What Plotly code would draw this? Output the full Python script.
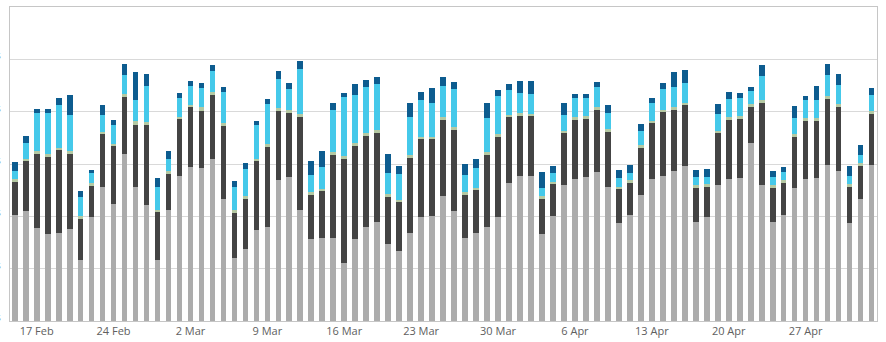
import pandas as pd
import plotly.graph_objects as go

# One bar per night, 15 Feb - 3 May 2020
days = pd.date_range("2020-02-15", periods=79, freq="D")

light = [4.07, 4.20, 3.55, 3.31, 3.38, 3.50, 2.35, 3.96, 5.14, 4.46,
         6.37, 5.14, 4.42, 2.35, 4.23, 5.53, 5.87, 5.83, 6.18, 4.65,
         2.39, 2.77, 3.47, 3.59, 5.39, 5.49, 4.26, 3.12, 3.17, 3.19,
         2.20, 3.12, 3.58, 3.78, 2.93, 2.66, 3.35, 3.96, 4.03, 4.76,
         4.19, 3.19, 3.38, 3.58, 3.96, 5.26, 5.56, 5.53, 3.31, 4.00,
         5.18, 5.41, 5.49, 5.68, 5.14, 3.73, 4.07, 4.80, 5.41, 5.56,
         5.72, 5.91, 3.80, 3.96, 5.18, 5.41, 5.45, 6.79, 5.18, 3.77,
         4.07, 5.07, 5.41, 5.45, 5.98, 5.72, 3.73, 4.65, 5.95]

deep = [1.24, 1.91, 2.82, 2.96, 3.14, 2.88, 1.54, 1.19, 1.99, 2.22,
        2.19, 2.36, 3.06, 1.80, 1.38, 2.18, 2.29, 2.21, 2.45, 2.79,
        1.73, 1.91, 2.63, 3.05, 2.63, 2.45, 3.52, 1.68, 1.78, 3.17,
        3.98, 3.56, 3.48, 3.42, 1.80, 1.87, 2.87, 2.98, 2.91, 2.91,
        3.10, 1.61, 1.61, 2.75, 3.06, 2.52, 2.29, 2.29, 1.34, 1.22,
        1.99, 2.26, 2.22, 2.37, 2.10, 1.30, 1.19, 1.80, 2.14, 2.41,
        2.33, 2.33, 1.30, 1.15, 1.99, 2.26, 2.26, 1.38, 3.14, 1.30,
        1.19, 1.95, 2.22, 2.18, 2.49, 2.45, 1.38, 1.26, 1.95]

settle = [0.13, 0.10, 0.13, 0.13, 0.11, 0.11, 0.11, 0.13, 0.11, 0.10,
          0.11, 0.13, 0.11, 0.11, 0.13, 0.10, 0.11, 0.13, 0.11, 0.11,
          0.11, 0.11, 0.11, 0.13, 0.13, 0.11, 0.13, 0.13, 0.11, 0.11,
          0.11, 0.11, 0.11, 0.11, 0.11, 0.11, 0.11, 0.11, 0.11, 0.11,
          0.11, 0.13, 0.11, 0.11, 0.11, 0.11, 0.11, 0.11, 0.11, 0.11,
          0.11, 0.11, 0.11, 0.11, 0.11, 0.11, 0.11, 0.11, 0.11, 0.11,
          0.11, 0.11, 0.11, 0.11, 0.11, 0.11, 0.11, 0.11, 0.11, 0.11,
          0.11, 0.11, 0.11, 0.11, 0.11, 0.11, 0.11, 0.11, 0.11]

rem = [0.29, 0.61, 1.44, 1.54, 1.64, 1.40, 0.73, 0.37, 0.62, 0.71,
       0.73, 0.80, 1.38, 0.85, 0.45, 0.71, 0.73, 0.73, 0.80, 1.19,
       0.88, 1.01, 1.27, 1.52, 1.10, 0.80, 1.71, 0.64, 0.84, 1.61,
       2.26, 1.84, 1.76, 1.73, 0.80, 0.96, 1.45, 1.41, 1.30, 1.22,
       1.45, 0.64, 0.73, 1.30, 1.45, 0.92, 0.76, 0.73, 0.34, 0.31,
       0.61, 0.76, 0.69, 0.80, 0.61, 0.34, 0.27, 0.54, 0.69, 0.80,
       0.80, 0.76, 0.31, 0.27, 0.65, 0.69, 0.69, 0.50, 0.92, 0.31,
       0.31, 0.61, 0.69, 0.69, 0.84, 0.73, 0.31, 0.31, 0.61]

awake = [0.34, 0.24, 0.15, 0.15, 0.27, 0.76, 0.22, 0.11, 0.41, 0.18,
         0.41, 1.07, 0.46, 0.37, 0.31, 0.18, 0.19, 0.19, 0.23, 0.19,
         0.25, 0.25, 0.18, 0.19, 0.31, 0.23, 0.31, 0.54, 0.61, 0.27,
         0.15, 0.42, 0.27, 0.27, 0.73, 0.31, 0.57, 0.31, 0.57, 0.34,
         0.27, 0.42, 0.38, 0.61, 0.23, 0.23, 0.46, 0.50, 0.61, 0.27,
         0.46, 0.15, 0.15, 0.19, 0.31, 0.31, 0.34, 0.27, 0.19, 0.23,
         0.54, 0.50, 0.27, 0.31, 0.38, 0.27, 0.19, 0.15, 0.42, 0.23,
         0.19, 0.46, 0.15, 0.54, 0.42, 0.42, 0.38, 0.38, 0.27]

y_ticks = [0, 2, 4, 6, 8, 10]
y_labels = [f"{v} hrs" for v in y_ticks]

series = [
    ("Light sleep", light, "#acacac"),
    ("Deep sleep", deep, "#444444"),
    ("Falling asleep", settle, "#b5c9a3"),
    ("REM", rem, "#45c9ea"),
    ("Awake", awake, "#0d5c8f"),
]

fig = go.Figure()
for name, vals, color in series:
    fig.add_trace(go.Bar(
        x=days, y=vals, name=name,
        marker=dict(color=color, line=dict(width=0)),
    ))

fig.update_layout(
    barmode="stack",
    bargap=0.48,
    showlegend=False,
    width=886, height=342,
    margin=dict(l=10, r=9, t=7, b=21),
    paper_bgcolor="white",
    plot_bgcolor="white",
    font=dict(family="Open Sans, Liberation Sans, sans-serif", size=11, color="#606060"),
)

fig.update_xaxes(
    type="date",
    range=["2020-02-14 13:40", "2020-05-03 12:00"],
    tick0="2020-02-17", dtick=7 * 86400000,
    tickformat="%-d %b",
    showgrid=False,
    showline=True, linecolor="#c6c6c6", linewidth=1, mirror=True,
    ticks="", zeroline=False, automargin=False,
)

fig.update_yaxes(
    range=[0, 12],
    tickvals=y_ticks, ticktext=y_labels,
    showgrid=True, gridcolor="#d9d9d9", gridwidth=1,
    showline=True, linecolor="#c6c6c6", linewidth=1, mirror=True,
    zeroline=False, ticks="", automargin=False,
    ticklabelstandoff=6, ticklabelshift=-4,
)

fig.write_html("out.html")
